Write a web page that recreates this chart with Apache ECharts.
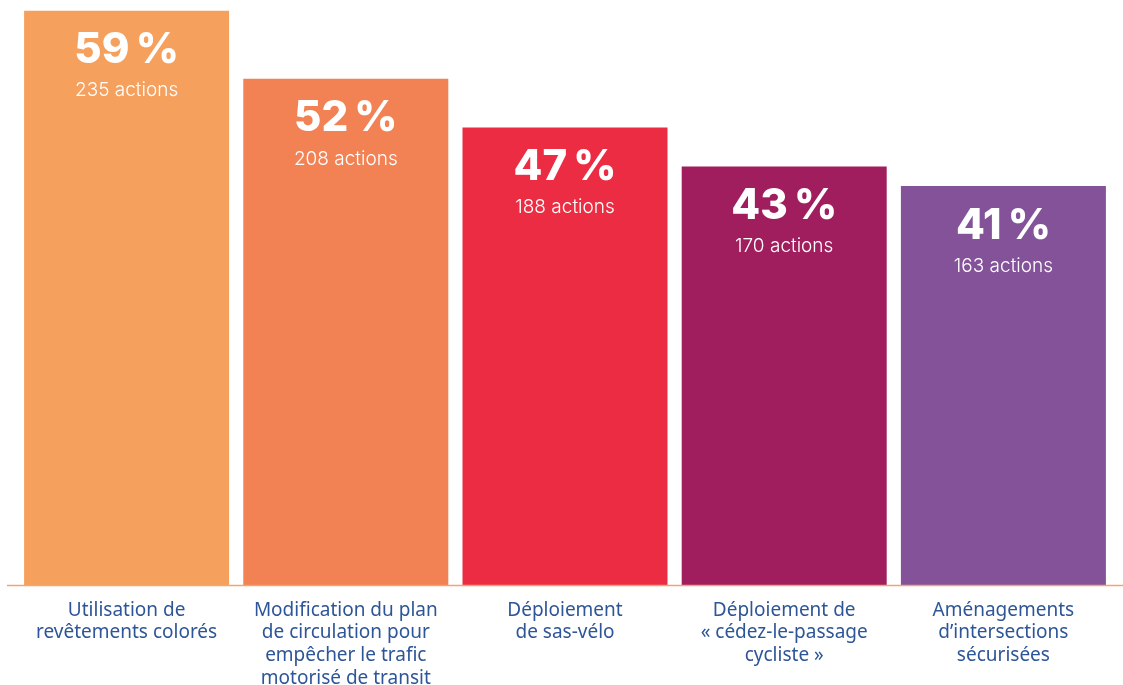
<!DOCTYPE html>
<html>
<head>
<meta charset="utf-8">
<script src="https://cdn.jsdelivr.net/npm/echarts@6/dist/echarts.min.js"></script>
<style>
  html, body { margin: 0; padding: 0; background: #fff; }
  #chart { width: 1123px; height: 685px; }
</style>
</head>
<body>
<div id="chart"></div>
<script>
// categories (labels wrapped like the original)
var categories = [
  'Utilisation de\nrevêtements colorés',
  'Modification du plan\nde circulation pour\nempêcher le trafic\nmotorisé de transit',
  'Déploiement\nde sas-vélo',
  'Déploiement de\n« cédez-le-passage\ncycliste »',
  'Aménagements\nd’intersections\nsécurisées'
];
var percents = [59, 52, 47, 43, 41];
var actions = [235, 208, 188, 170, 163];
var barColors = ['#F6A05E', '#F28153', '#EC2C42', '#A01E5E', '#835299'];

var chart = echarts.init(document.getElementById('chart'));

var option = {
  backgroundColor: '#ffffff',
  animation: false,
  grid: {
    left: 17,
    right: 10,
    top: 1,
    bottom: 100,
    outerBoundsMode: 'none',
    containLabel: false
  },
  xAxis: {
    type: 'category',
    data: categories,
    axisLine: { show: false },
    axisTick: { show: false },
    axisLabel: {
      interval: 0,
      margin: 14,
      color: '#2D5597',
      fontFamily: 'Noto Sans',
      fontSize: 19,
      lineHeight: 22.7
    }
  },
  yAxis: {
    type: 'value',
    min: 0,
    max: 60,
    show: false
  },
  graphic: [{
    type: 'line',
    shape: { x1: 7, y1: 585.5, x2: 1123, y2: 585.5 },
    style: { stroke: '#F4A27A', lineWidth: 1.5 },
    z: 10
  }],
  series: [{
    type: 'bar',
    barWidth: 205,
    data: percents.map(function (v, i) {
      return { value: v, itemStyle: { color: barColors[i] } };
    }),
    label: {
      show: true,
      position: 'insideTop',
      distance: 16,
      formatter: function (p) {
        return '{p|' + p.value + '\u202F%}\n{a|' + actions[p.dataIndex] + ' actions}';
      },
      rich: {
        p: {
          color: '#fff',
          fontFamily: 'Inter',
          fontWeight: 800,
          fontSize: 42,
          lineHeight: 48
        },
        a: {
          color: '#fff',
          fontFamily: 'Inter',
          fontWeight: 300,
          fontSize: 19,
          lineHeight: 32
        }
      }
    }
  }]
};

chart.setOption(option);
</script>
</body>
</html>
